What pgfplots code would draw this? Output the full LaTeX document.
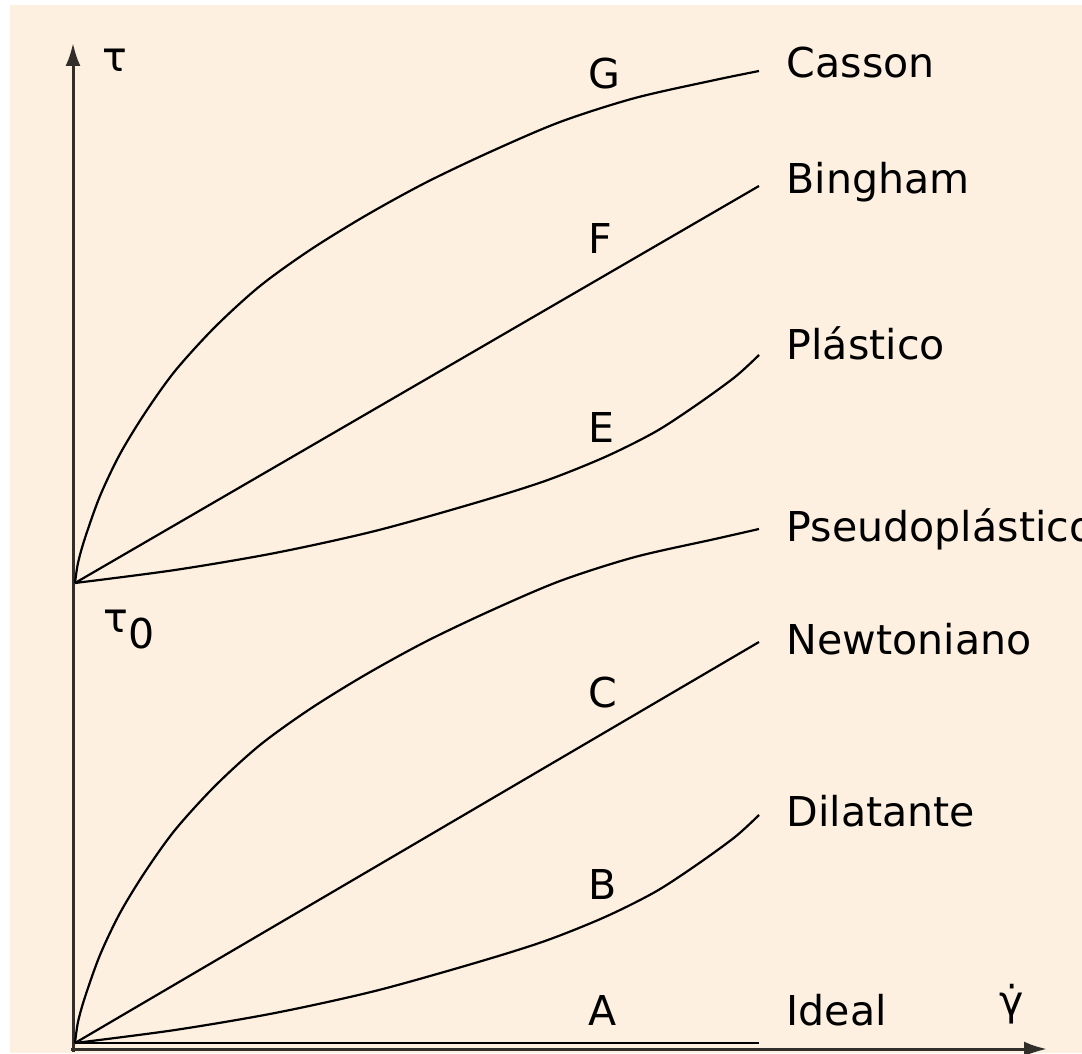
\documentclass[border=0pt]{standalone}
\usepackage{pgfplots}
\pgfplotsset{compat=1.18}
\usepackage{fontspec}
\setmainfont{DejaVu Sans}
\usetikzlibrary{arrows.meta}

\definecolor{bgbeige}{RGB}{253,240,224}
\definecolor{axisgray}{RGB}{50,46,42}

% curves in picture units (1 unit = 0.1 mm), origin at the axes' corner
\pgfplotstableread{
x y
2 466
5 486
12 511
27 553
47 595
72 636
102 678
142 722
187 763
237 799
292 833
352 866
417 897
487 927
562 951
642 969
686 978
}\casson
\pgfplotstableread{
x y
2 466
102 479
202 496
302 518
402 546
472 568
532 592
582 617
622 643
662 672
686 694
}\plastico
\pgfplotstableread{
x y
2 6
5 27
12 52
27 94
47 136
72 177
102 219
142 263
187 304
237 340
292 374
352 407
417 438
487 468
562 492
642 510
686 520
}\pseudo
\pgfplotstableread{
x y
2 6
102 19
202 36
302 58
402 86
472 108
532 132
582 157
622 183
662 212
686 234
}\dilat

\begin{document}
\begin{tikzpicture}
\begin{axis}[
  width=10.82cm, height=10.53cm, scale only axis,
  xmin=-73, xmax=1009, ymin=-4, ymax=1049,
  hide axis,
  axis background/.style={fill=white},
  cycle list={{black, solid, no markers}},
]
\addplot[draw=none, fill=bgbeige] coordinates {(-63,-4) (1009,-4) (1009,1044) (-63,1044)} -- cycle;

% axes
\addplot[axisgray, line width=0.3mm, no markers, -{Latex[length=2.3mm,width=1.5mm]}] coordinates {(0,-3) (0,1006)};
\addplot[axisgray, line width=0.3mm, no markers, -{Latex[length=2.3mm,width=1.5mm]}] coordinates {(-2,0) (974,0)};

% curves from tau0
\addplot[black, no markers, line width=0.22mm, smooth] table {\casson};
\addplot[black, no markers, line width=0.22mm] coordinates {(2,466) (686,863)};
\addplot[black, no markers, line width=0.22mm, smooth] table {\plastico};
% curves from the origin
\addplot[black, no markers, line width=0.22mm, smooth] table {\pseudo};
\addplot[black, no markers, line width=0.22mm] coordinates {(2,6) (686,407)};
\addplot[black, no markers, line width=0.22mm, smooth] table {\dilat};
\addplot[black, no markers, line width=0.22mm] coordinates {(2,6) (686,6)};

\begin{scope}[every node/.style={anchor=base west, inner sep=0pt, font=\fontsize{11.7}{14}\selectfont}]
\node at (axis cs:713,971) {Casson};
\node at (axis cs:713,855) {Bingham};
\node at (axis cs:713,689) {Plástico};
\node at (axis cs:713,507) {Pseudoplástico};
\node at (axis cs:713,394) {Newtoniano};
\node at (axis cs:713,223) {Dilatante};
\node at (axis cs:713,24) {Ideal};
\node at (axis cs:515,960) {G};
\node at (axis cs:515,795) {F};
\node at (axis cs:515,606) {E};
\node at (axis cs:515,341) {C};
\node at (axis cs:515,150) {B};
\node at (axis cs:515,24) {A};
\node at (axis cs:29,977) {τ};
\node at (axis cs:30,416) {τ\raisebox{-1.6mm}{0}};
\node at (axis cs:926,34) {\.{γ}};
\end{scope}
\end{axis}
\pgfresetboundingbox
\path[use as bounding box] (current axis.south west) rectangle (current axis.north east);
\end{tikzpicture}
\end{document}
